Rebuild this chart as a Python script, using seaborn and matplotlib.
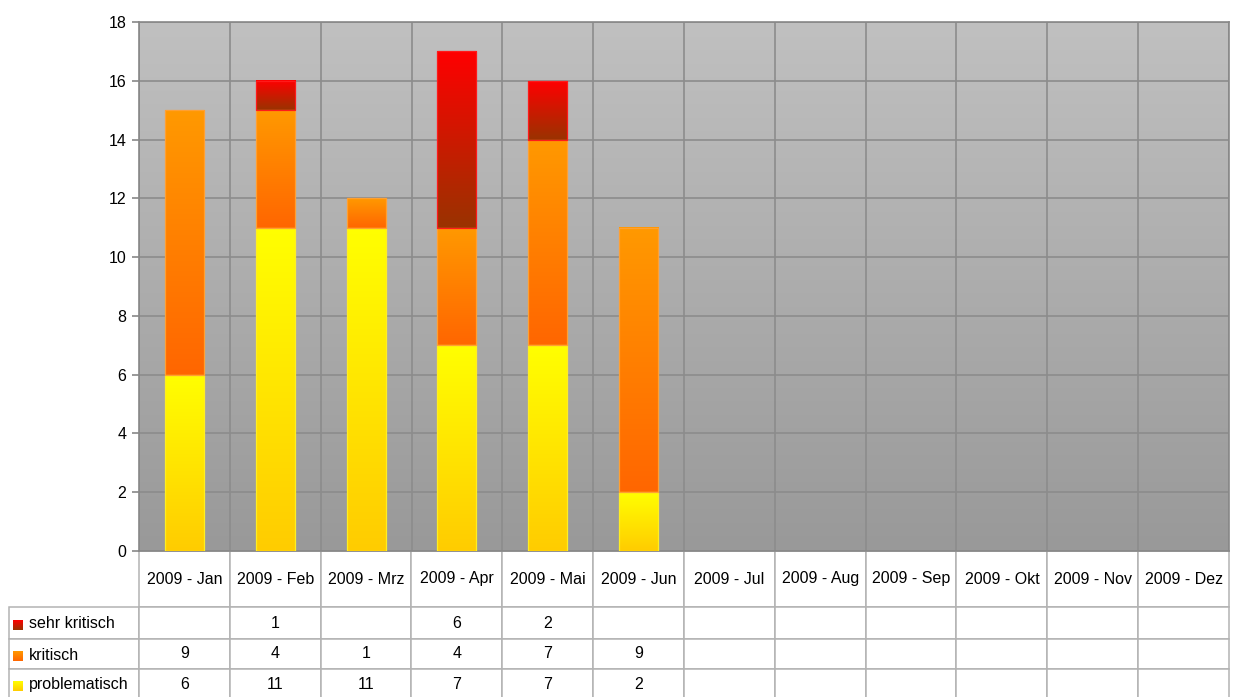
import numpy as np
import matplotlib
matplotlib.use("Agg")
import matplotlib.pyplot as plt
import seaborn as sns
from matplotlib.colors import to_rgb

# ---- data -------------------------------------------------------------
months = ["2009 - Jan", "2009 - Feb", "2009 - Mrz", "2009 - Apr", "2009 - Mai",
          "2009 - Jun", "2009 - Jul", "2009 - Aug", "2009 - Sep", "2009 - Okt",
          "2009 - Nov", "2009 - Dez"]
nan = np.nan
problematisch = [6, 11, 11, 7, 7, 2, nan, nan, nan, nan, nan, nan]
kritisch = [9, 4, 1, 4, 7, 9, nan, nan, nan, nan, nan, nan]
sehr_kritisch = [nan, 1, nan, 6, 2, nan, nan, nan, nan, nan, nan, nan]
y_ticks = list(range(0, 19, 2))

# stacking order (bottom -> top) and gradient colours (top, bottom)
stack = [("problematisch", problematisch, ("#ffff00", "#ffcc00"), "#ffee22"),
         ("kritisch", kritisch, ("#ff9900", "#ff6600"), "#ffa033"),
         ("sehr kritisch", sehr_kritisch, ("#ff0000", "#993300"), "#ff1a1a")]

sns.set_theme(style="white")
plt.rcParams["font.family"] = ["Liberation Sans", "DejaVu Sans"]

W, H = 1239, 697
fig = plt.figure(figsize=(W / 100, H / 100), dpi=100)
fig.patch.set_facecolor("white")

# plot area in pixel terms
L, R, T, B = 139, 1229, 22, 551
pw, ph = R - L, B - T
ax = fig.add_axes([L / W, 1 - B / H, pw / W, ph / H])


def vgrad(top, bottom, n=256):
    c0 = np.array(to_rgb(top))
    c1 = np.array(to_rgb(bottom))
    t = np.linspace(0, 1, n)[:, None]
    return (c0 * (1 - t) + c1 * t)[:, None, :]


# grey gradient wall
ax.imshow(vgrad("#c0c0c0", "#999999"), extent=(-0.5, len(months) - 0.5, 0, 18),
          aspect="auto", zorder=0, interpolation="bilinear")

bottom = np.zeros(len(months))
for name, vals, (c_top, c_bot), edge in stack:
    v = np.nan_to_num(np.array(vals, dtype=float))
    n0 = len(ax.patches)
    sns.barplot(x=months, y=v, bottom=bottom, width=0.43, color=c_top,
                errorbar=None, ax=ax, zorder=3, linewidth=0.9, edgecolor=edge)
    for p in list(ax.patches[n0:]):
        h = p.get_height()
        if h <= 0:
            p.remove()
            continue
        x0, y0, w = p.get_x(), p.get_y(), p.get_width()
        p.set_facecolor("none")
        ax.imshow(vgrad(c_top, c_bot), extent=(x0, x0 + w, y0, y0 + h),
                  aspect="auto", zorder=2.9, interpolation="bilinear")
    bottom = bottom + v

ax.set_xlim(-0.5, len(months) - 0.5)
ax.set_ylim(0, 18)
ax.set_yticks(y_ticks)
ax.set_xlabel("")
ax.set_ylabel("")
ax.set_axisbelow(True)
ax.yaxis.grid(True, color="#8c8c8c", linewidth=1.2)
ax.set_xticks(np.arange(-0.5, len(months), 1), minor=True)
ax.xaxis.grid(True, which="minor", color="#8c8c8c", linewidth=1.2)
ax.xaxis.grid(False, which="major")
ax.tick_params(axis="x", which="both", length=0, labelbottom=False)
ax.tick_params(axis="y", length=5, width=1.2, color="#888888",
               labelsize=11.5, labelcolor="black", pad=4, left=True)
for s in ax.spines.values():
    s.set_color("#888888")
    s.set_linewidth(1.2)

# ---- data table underneath -----------------------------------------------
def fmt(v):
    return "" if np.isnan(v) else str(int(v))

rows = [("sehr kritisch", sehr_kritisch, ("#ff0000", "#993300")),
        ("kritisch", kritisch, ("#ff9900", "#ff6600")),
        ("problematisch", problematisch, ("#ffff00", "#ffcc00"))]
cell_text = [[fmt(v) for v in vals] for _, vals, _ in rows]

tab_left, tab_bottom = 9, 700
row_h_px = [56, 32, 30, 31]
tab = ax.table(cellText=cell_text, colLabels=months, cellLoc="center",
               bbox=[0, (B - tab_bottom) / ph, 1, (tab_bottom - B) / ph])
label_w = (L - tab_left) / pw
for r in range(1, len(rows) + 1):
    tab.add_cell(r, -1, width=label_w, height=row_h_px[r] / ph, text="")
tab.auto_set_font_size(False)
tab.set_fontsize(11.5)
for (r, c), cell in tab.get_celld().items():
    cell.set_height(row_h_px[r] / ph)
    cell.set_width(label_w if c == -1 else 1 / len(months))
    cell.set_edgecolor("#b3b3b3")
    cell.set_linewidth(1.1)
    cell.set_facecolor("white")
    cell.get_text().set_color("black")

# legend keys and names in the row-label column
row_centres = [624, 655, 685]
for (name, _, (c_top, c_bot)), yc in zip(rows, row_centres):
    kax = fig.add_axes([13 / W, 1 - (yc + 6) / H, 10 / W, 10 / H])
    kax.imshow(vgrad(c_top, c_bot, 32), aspect="auto", interpolation="bilinear")
    kax.set_axis_off()
    fig.text(29 / W, 1 - yc / H, name, ha="left", va="center",
             fontsize=11.5, color="black")

fig.savefig("out.png", dpi=100, facecolor="white")
